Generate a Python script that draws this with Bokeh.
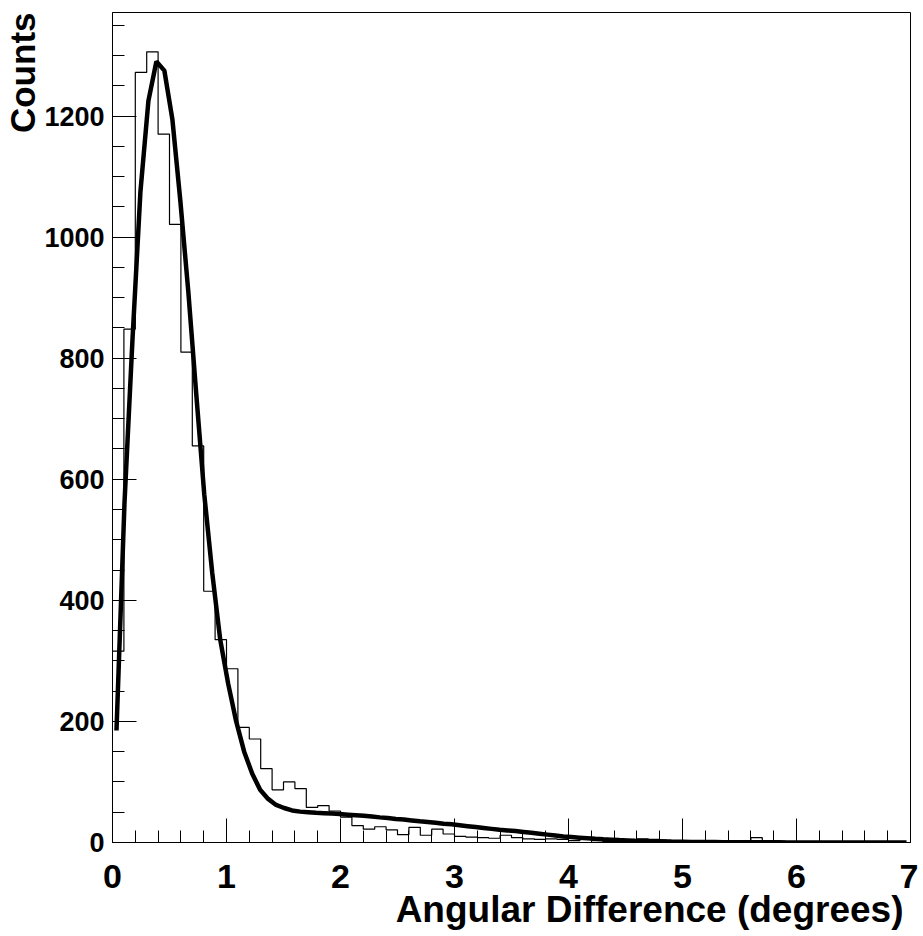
import numpy as np
from bokeh.plotting import figure
from bokeh.models import Range1d, FixedTicker, Title
from bokeh.embed import file_html
from bokeh.resources import INLINE

# ---- data ----
bin_width = 0.1
bin_lo = 0.0
counts = [316, 848, 1272, 1306, 1170, 1021, 810, 655, 415, 335,
          287, 190, 171, 122, 87, 100, 89, 58, 61, 52,
          42, 28, 22, 26, 21, 13, 25, 12, 22, 14,
          10, 9, 8, 7, 12, 8, 6, 5, 6, 5,
          3, 6, 3, 2, 2, 3, 6, 5, 4, 3,
          2, 1, 2, 3, 1, 2, 8, 1, 2, 1,
          1, 0, 1, 1, 0, 1, 0, 1, 0, 0]

fit_x0 = 0.035
fit_dx = 0.07
fit_y = [185, 560, 830, 1075, 1225, 1290, 1275, 1195, 1060, 910,
         740, 575, 445, 335, 262, 200, 150, 114, 87, 72,
         62, 57, 53, 51, 50, 49, 48.5, 48, 47, 46,
         45, 44, 43, 41.5, 40.5, 39, 38, 36.5, 35, 34,
         32.5, 31, 30, 28.5, 27, 25.5, 24, 22.5, 21, 20,
         19, 17.5, 16, 14.5, 13, 11.5, 10, 9, 8, 7,
         6, 5.3, 4.7, 4, 3.5, 3, 2.6, 2.2, 1.9, 1.6,
         1.4, 1.2, 1.0, 0.9, 0.8, 0.7, 0.6, 0.5, 0.45, 0.4,
         0.35, 0.3, 0.27, 0.24, 0.2, 0.18, 0.16, 0.14, 0.12, 0.1,
         0.09, 0.08, 0.07, 0.06, 0.05, 0.05, 0.04, 0.04, 0.03, 0.03]

x_ticks = [0, 1, 2, 3, 4, 5, 6, 7]
y_ticks = [0, 200, 400, 600, 800, 1000, 1200]
x_title = "Angular Difference (degrees)"
y_title = "Counts"

# ---- derived ----
n = len(counts)
edges = [bin_lo + i * bin_width for i in range(n + 1)]
step_y = counts + [counts[-1]]
fit_x = [fit_x0 + i * fit_dx for i in range(len(fit_y))]

FONT = "'Liberation Sans', Arial, Helvetica, sans-serif"

p = figure(width=918, height=935,
           x_range=Range1d(0, 7), y_range=Range1d(0, 1371),
           output_backend="svg", toolbar_location=None,
           min_border_left=112, min_border_right=8,
           min_border_top=12, min_border_bottom=93)
p.background_fill_color = "white"
p.border_fill_color = "white"
p.outline_line_color = "black"
p.outline_line_width = 1
p.outline_line_alpha = 1.0
p.xgrid.visible = False
p.ygrid.visible = False

p.step(edges, step_y, mode="after", line_color="black", line_width=1.2)
p.line(fit_x, fit_y, line_color="black", line_width=4.5)

# x axis
xa = p.xaxis[0]
xa.ticker = FixedTicker(ticks=x_ticks, minor_ticks=[i * 0.2 for i in range(36)])
xa.major_tick_in = 24
xa.major_tick_out = 0
xa.minor_tick_in = 12
xa.minor_tick_out = 0
xa.major_tick_line_color = "black"
xa.minor_tick_line_color = "black"
xa.axis_line_color = "black"
xa.major_label_standoff = 22
xa.major_label_text_font = FONT
xa.major_label_text_font_style = "bold"
xa.major_label_text_font_size = "34px"
xa.major_label_text_color = "black"

# y axis
ya = p.yaxis[0]
ya.ticker = FixedTicker(ticks=y_ticks, minor_ticks=[i * 50 for i in range(28)])
ya.major_tick_in = 24
ya.major_tick_out = 0
ya.minor_tick_in = 12
ya.minor_tick_out = 0
ya.major_tick_line_color = "black"
ya.minor_tick_line_color = "black"
ya.axis_line_color = "black"
ya.major_label_standoff = 8
ya.major_label_text_font = FONT
ya.major_label_text_font_style = "bold"
ya.major_label_text_font_size = "27px"
ya.major_label_text_color = "black"
ya.major_label_orientation = "horizontal"

xt = Title(text=x_title, align="right", offset=7, standoff=0,
           text_font=FONT, text_font_style="bold",
           text_font_size="37px", text_color="black")
try:
    xt.standoff = -8
except Exception:
    xt.standoff = 0
p.add_layout(xt, "below")
p.add_layout(Title(text=y_title, align="right", offset=0, standoff=0,
                   text_font=FONT, text_font_style="bold",
                   text_font_size="35px", text_color="black"), "left")

open("out.html", "w").write(file_html(p, INLINE))
